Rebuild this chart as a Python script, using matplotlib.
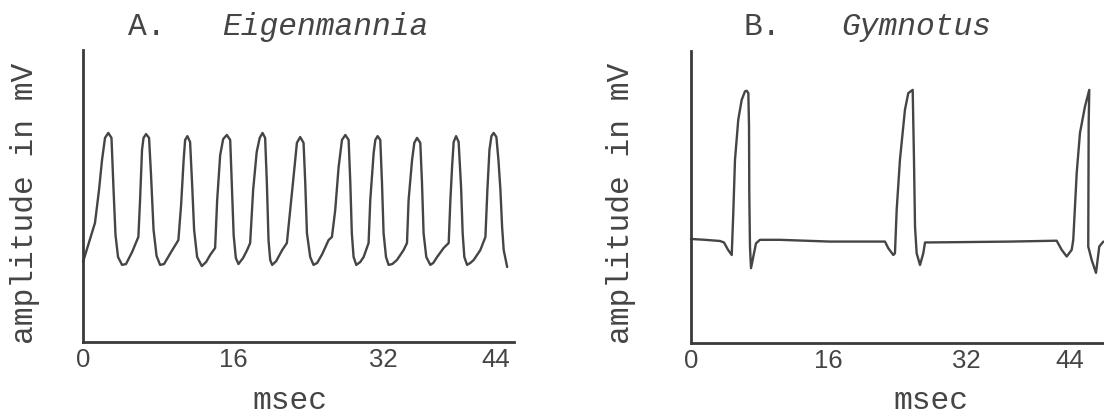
import matplotlib
matplotlib.use("Agg")
import matplotlib.pyplot as plt

# values (time in msec, amplitude in arbitrary units 0-100)
eig_t = [0.00, 1.28, 1.71, 2.03, 2.35, 2.70, 3.04, 3.26, 3.47, 3.74, 4.17, 4.59, 5.24, 5.91,
         6.09, 6.30, 6.46, 6.73, 7.05, 7.26, 7.53, 7.85, 8.23, 8.65, 9.40, 10.18,
         10.47, 10.74, 10.90, 11.14, 11.43, 11.65, 11.86, 12.18, 12.68, 13.14, 13.57, 14.10,
         14.32, 14.64, 14.96, 15.35, 15.71, 15.89, 16.08, 16.31, 16.59, 17.09, 17.52, 17.84,
         18.16, 18.54, 18.86, 19.16, 19.44, 19.63, 19.80, 19.98, 20.19, 20.62, 21.26, 21.76,
         22.12, 22.47, 22.83, 23.18, 23.54, 23.72, 23.90, 24.25, 24.60, 25.00, 25.53, 26.21, 26.57,
         26.92, 27.28, 27.64, 28.00, 28.35, 28.53, 28.69, 28.88, 29.17, 29.59, 29.95, 30.48,
         30.66, 31.02, 31.20, 31.44, 31.73, 31.91, 32.08, 32.34, 32.62, 33.01, 33.51, 34.22, 34.58,
         34.75, 35.12, 35.36, 35.65, 36.00, 36.18, 36.35, 36.64, 37.07, 37.39, 37.79, 38.49, 39.03,
         39.21, 39.39, 39.56, 39.82, 40.09, 40.35, 40.52, 40.70, 40.99, 41.35, 41.70, 42.41, 42.95,
         43.16, 43.38, 43.59, 43.83, 44.12, 44.34, 44.55, 44.73, 44.90, 45.27]
eig_v = [27.4, 40.8, 52.1, 62.3, 69.9, 71.6, 69.9, 52.1, 36.6, 29.1, 26.4, 26.7, 30.8, 36.0,
         48.6, 65.8, 69.9, 71.2, 69.9, 57.2, 38.4, 29.5, 26.4, 26.7, 30.8, 34.9,
         46.9, 62.3, 69.2, 70.5, 68.5, 53.8, 38.4, 29.1, 26.0, 27.4, 29.8, 32.2,
         48.6, 64.0, 69.5, 70.9, 69.2, 53.8, 36.6, 28.8, 26.7, 28.8, 31.5, 33.9,
         52.1, 65.1, 69.9, 71.6, 69.9, 53.8, 34.9, 28.1, 26.4, 27.7, 31.5, 33.9,
         45.2, 56.5, 68.2, 70.2, 68.2, 54.5, 37.3, 29.1, 26.4, 27.1, 30.1, 34.9, 36.0,
         45.2, 59.9, 69.2, 70.9, 69.2, 54.5, 37.3, 29.1, 26.4, 27.4, 29.1, 33.9,
         48.6, 64.7, 69.2, 70.5, 69.2, 54.5, 37.3, 29.1, 26.4, 26.7, 28.1, 31.5, 33.9,
         48.6, 62.3, 68.2, 69.9, 68.2, 54.5, 37.3, 29.1, 26.4, 27.1, 29.1, 32.2, 33.9,
         48.6, 59.9, 68.5, 70.5, 68.5, 53.1, 37.3, 29.1, 26.4, 27.1, 28.1, 31.5, 36.0,
         52.1, 65.8, 70.5, 71.6, 70.2, 62.3, 52.1, 39.4, 31.5, 25.7]

gym_t = [0.00, 1.63, 3.37, 3.83, 4.30, 4.73, 4.91, 5.11, 5.49, 5.89, 6.27, 6.47, 6.66, 6.74,
         6.77, 6.85, 6.97, 7.24, 7.55, 8.01, 10.34, 16.14, 22.53, 22.92, 23.50, 23.69, 23.89,
         24.27, 24.85, 25.24, 25.75, 25.90, 26.02, 26.21, 26.60, 26.98, 27.18, 30.86, 37.05,
         42.47, 43.05, 43.64, 44.22, 44.40, 44.80, 45.18, 45.76, 46.26, 46.19, 46.14, 46.54,
         47.04, 47.42, 47.89]
gym_v = [35.7, 35.4, 35.0, 34.5, 32.0, 30.2, 44.5, 62.8, 76.5, 83.3, 86.2, 86.4, 85.6, 74.2,
         51.4, 33.1, 25.7, 29.7, 34.2, 35.4, 35.4, 34.8, 34.8, 32.5, 30.2, 30.8, 45.7,
         62.8, 79.9, 85.6, 86.7, 62.8, 39.9, 30.8, 26.8, 30.8, 34.5, 34.6, 34.8,
         35.1, 32.0, 29.7, 32.0, 35.4, 58.3, 72.0, 81.0, 86.7, 75.4, 33.1, 28.5,
         24.1, 33.1, 34.8]

xticks = [0, 16, 32, 44]
letters = ["A.", "B."]
species = ["Eigenmannia", "Gymnotus"]
ylabel = "amplitude in mV"
xlabel = "msec"

W, H = 1104, 417
ink = "#454545"
mono = "Liberation Mono"

fig = plt.figure(figsize=(W / 100, H / 100), dpi=100)
fig.patch.set_facecolor("white")


def px(x, y):
    return x / W, 1 - y / H


panels = [
    # axes rect in pixels: left, top, right, bottom
    dict(rect=(83, 50, 514, 342), t=eig_t, v=eig_v, xmax=46.0,
         letter_x=128, name_x=222, ylab_x=25, xlab_x=290),
    dict(rect=(691, 51, 1104, 343.3), t=gym_t, v=gym_v, xmax=47.97,
         letter_x=744, name_x=841, ylab_x=621, xlab_x=931),
]

for i, p in enumerate(panels):
    l, t, r, b = p["rect"]
    ax = fig.add_axes([l / W, 1 - b / H, (r - l) / W, (b - t) / H])
    ax.plot(p["t"], p["v"], color=ink, lw=1.7, solid_joinstyle="round",
            solid_capstyle="round", clip_on=False)
    ax.set_xlim(0, p["xmax"])
    ax.set_ylim(0, 100)
    for s in ["top", "right"]:
        ax.spines[s].set_visible(False)
    for s in ["left", "bottom"]:
        ax.spines[s].set_linewidth(2.0)
        ax.spines[s].set_color("#3a3a3a")
    ax.set_xticks(xticks)
    ax.set_yticks([])
    ax.tick_params(axis="x", length=0, pad=4, labelsize=18.5, labelcolor=ink)
    for lab in ax.get_xticklabels():
        lab.set_fontfamily("Liberation Sans")
    ax.set_facecolor("none")

    fig.text(*px(p["letter_x"], 27), letters[i], ha="left", va="center",
             fontsize=22.5, family=mono, color=ink)
    fig.text(*px(p["name_x"], 27), species[i], ha="left", va="center",
             fontsize=22.5, family=mono, style="italic", color=ink)
    fig.text(*px(p["ylab_x"], 203), ylabel, ha="center", va="center",
             rotation=90, fontsize=22.5, family=mono, color=ink)
    fig.text(*px(p["xlab_x"], 401), xlabel, ha="center", va="center",
             fontsize=22.5, family=mono, color=ink)

fig.savefig("out.png", dpi=100, facecolor="white")
